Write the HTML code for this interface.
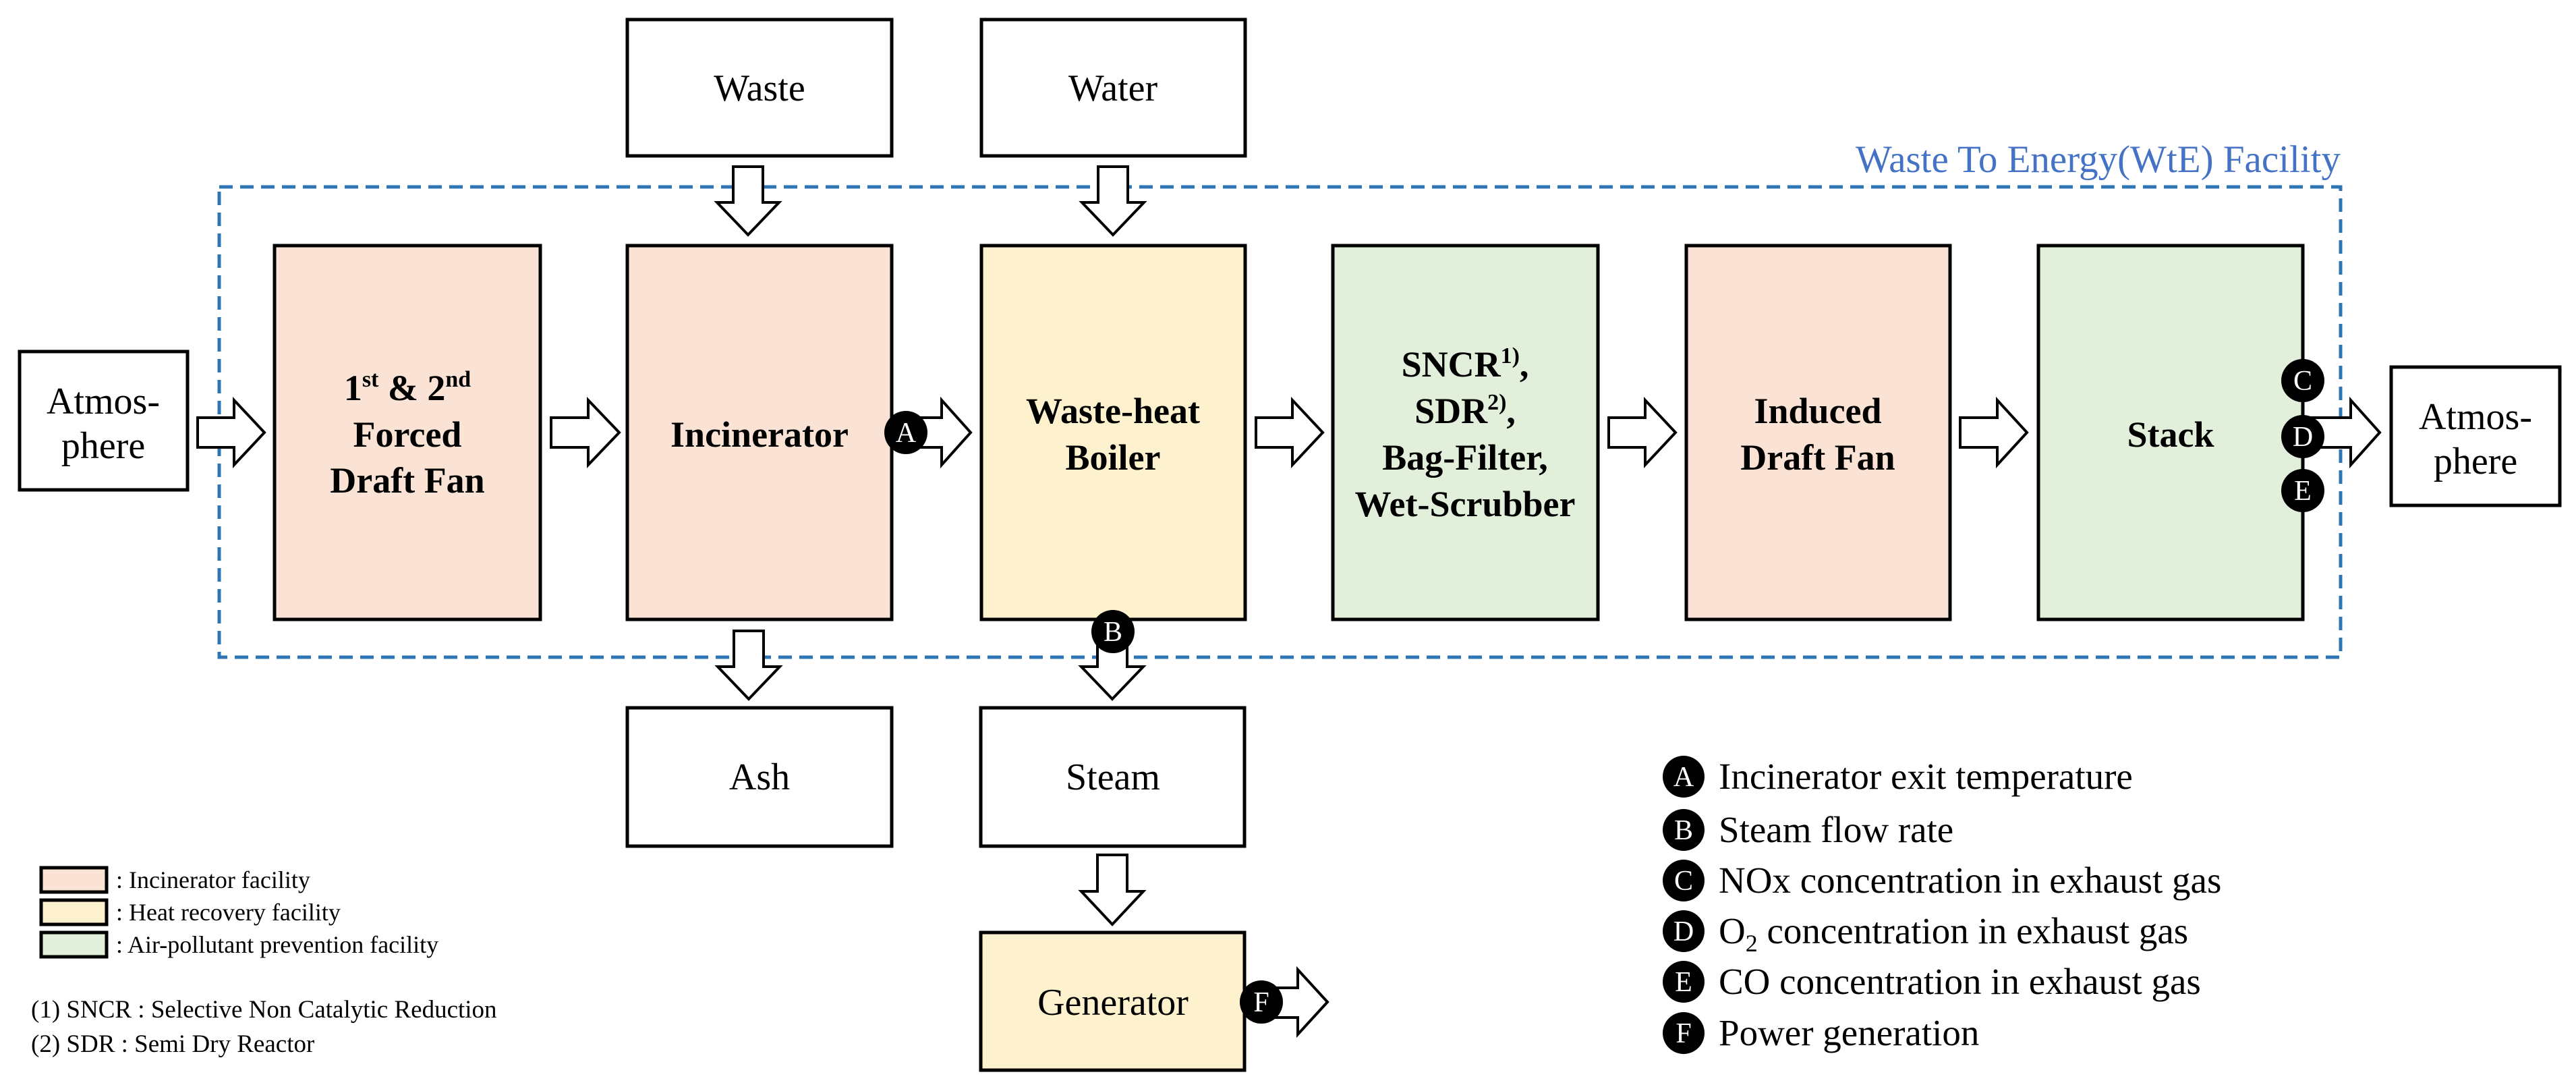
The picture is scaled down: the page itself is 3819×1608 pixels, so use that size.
<!DOCTYPE html>
<html><head><meta charset="utf-8"><style>
html,body{margin:0;padding:0;background:#fff;}
svg{display:block;}
</style></head><body>
<svg width="3819" height="1608" viewBox="0 0 3819 1608" xmlns="http://www.w3.org/2000/svg" font-family="'Liberation Serif','DejaVu Serif',serif">
<g stroke="#000" stroke-width="5" fill="#fff">
<rect x="930" y="29" width="392" height="202"/>
<rect x="1455" y="29" width="391" height="202"/>
<rect x="930" y="1049" width="392" height="205"/>
<rect x="1454" y="1049" width="391" height="205"/>
<rect x="29" y="521" width="249" height="205"/>
<rect x="3545" y="544" width="250" height="205"/>
<rect x="407" y="364" width="394" height="554" fill="#FAE3D5"/>
<rect x="930" y="364" width="392" height="554" fill="#FAE3D5"/>
<rect x="1455" y="364" width="391" height="554" fill="#FEF1CE"/>
<rect x="1976" y="364" width="393" height="554" fill="#E2EFDA"/>
<rect x="2500" y="364" width="391" height="554" fill="#FAE3D5"/>
<rect x="3022" y="364" width="392" height="554" fill="#E2EFDA"/>
<rect x="1454" y="1382" width="391" height="204" fill="#FEF1CE"/>
<rect x="61" y="1286" width="97" height="36" fill="#FAE3D5"/>
<rect x="61" y="1334" width="97" height="36" fill="#FEF1CE"/>
<rect x="61" y="1382" width="97" height="36" fill="#E2EFDA"/>
</g>
<rect x="325" y="277" width="3145" height="697" fill="none" stroke="#2E75B6" stroke-width="5" stroke-dasharray="20,11"/>
<text x="3470" y="255" font-size="57" fill="#4472C4" text-anchor="end">Waste To Energy(WtE) Facility</text>
<g fill="#fff" stroke="#000" stroke-width="4" stroke-linejoin="miter">
<polygon points="293,619 347,619 347,593 392,641 347,689 347,663 293,663"/>
<polygon points="817,619 872,619 872,593 918,641 872,689 872,663 817,663"/>
<polygon points="1343,619 1396,619 1396,593 1439,641 1396,689 1396,663 1343,663"/>
<polygon points="1862,619 1916,619 1916,593 1961,641 1916,689 1916,663 1862,663"/>
<polygon points="2385,619 2439,619 2439,593 2484,641 2439,689 2439,663 2385,663"/>
<polygon points="2906,619 2961,619 2961,593 3005,641 2961,689 2961,663 2906,663"/>
<polygon points="3414,619 3485,619 3485,593 3528,641 3485,689 3485,663 3414,663"/>
<polygon points="1870,1464 1924,1464 1924,1437 1968,1485 1924,1533 1924,1508 1870,1508"/>
<polygon points="1087,247 1131,247 1131,300 1155,300 1109,348 1063,300 1087,300"/>
<polygon points="1628,247 1672,247 1672,300 1696,300 1650,348 1604,300 1628,300"/>
<polygon points="1088,935 1132,935 1132,988 1156,988 1110,1036 1064,988 1088,988"/>
<polygon points="1627,935 1671,935 1671,988 1695,988 1649,1036 1603,988 1627,988"/>
<polygon points="1627,1267 1671,1267 1671,1321 1695,1321 1649,1370 1603,1321 1627,1321"/>
</g>
<g fill="#000">
<circle cx="1343" cy="641" r="32"/>
<circle cx="1650" cy="936" r="32"/>
<circle cx="3414" cy="564" r="32"/>
<circle cx="3414" cy="647" r="32"/>
<circle cx="3414" cy="727" r="32"/>
<circle cx="1870" cy="1485" r="32"/>
<circle cx="2496" cy="1151" r="31"/>
<circle cx="2496" cy="1230" r="31"/>
<circle cx="2496" cy="1305" r="31"/>
<circle cx="2496" cy="1380" r="31"/>
<circle cx="2496" cy="1455" r="31"/>
<circle cx="2496" cy="1531" r="31"/>
</g>
<g fill="#fff" font-size="42" text-anchor="middle">
<text x="1343" y="655">A</text>
<text x="1650" y="950">B</text>
<text x="3414" y="578">C</text>
<text x="3414" y="661">D</text>
<text x="3414" y="741">E</text>
<text x="1870" y="1499">F</text>
<text x="2496" y="1165">A</text>
<text x="2496" y="1244">B</text>
<text x="2496" y="1319">C</text>
<text x="2496" y="1394">D</text>
<text x="2496" y="1469">E</text>
<text x="2496" y="1545">F</text>
</g>
<g font-size="56" text-anchor="middle" fill="#000">
<text x="1126" y="149">Waste</text>
<text x="1650" y="149">Water</text>
<text x="1126" y="1170">Ash</text>
<text x="1650" y="1170">Steam</text>
<text x="153" y="613">Atmos-</text>
<text x="153" y="679">phere</text>
<text x="3670" y="636">Atmos-</text>
<text x="3670" y="702">phere</text>
</g>
<g font-size="54" font-weight="bold" text-anchor="middle" fill="#000">
<text x="604" y="593">1<tspan font-size="34" dy="-20">st</tspan><tspan dy="20"> &amp; 2</tspan><tspan font-size="34" dy="-20">nd</tspan></text>
<text x="604" y="662">Forced</text>
<text x="604" y="730">Draft Fan</text>
<text x="1126" y="662">Incinerator</text>
<text x="1650" y="627">Waste-heat</text>
<text x="1650" y="696">Boiler</text>
<text x="2172" y="558">SNCR<tspan font-size="34" dy="-20">1)</tspan><tspan dy="20">,</tspan></text>
<text x="2172" y="627">SDR<tspan font-size="34" dy="-20">2)</tspan><tspan dy="20">,</tspan></text>
<text x="2172" y="696">Bag-Filter,</text>
<text x="2172" y="765">Wet-Scrubber</text>
<text x="2695" y="627">Induced</text>
<text x="2695" y="696">Draft Fan</text>
<text x="3218" y="662">Stack</text>
</g>
<text x="1650" y="1504" font-size="56" text-anchor="middle">Generator</text>
<g font-size="36" fill="#000">
<text x="172" y="1316">: Incinerator facility</text>
<text x="172" y="1364">: Heat recovery facility</text>
<text x="172" y="1412">: Air-pollutant prevention facility</text>
<text x="46" y="1508" font-size="37">(1) SNCR : Selective Non Catalytic Reduction</text>
<text x="46" y="1559" font-size="37">(2) SDR : Semi Dry Reactor</text>
</g>
<g font-size="55" fill="#000">
<text x="2548" y="1169">Incinerator exit temperature</text>
<text x="2548" y="1248">Steam flow rate</text>
<text x="2548" y="1323">NOx concentration in exhaust gas</text>
<text x="2548" y="1398">O<tspan font-size="36" dy="12">2</tspan><tspan dy="-12"> concentration in exhaust gas</tspan></text>
<text x="2548" y="1473">CO concentration in exhaust gas</text>
<text x="2548" y="1549">Power generation</text>
</g>
</svg>
</body></html>
